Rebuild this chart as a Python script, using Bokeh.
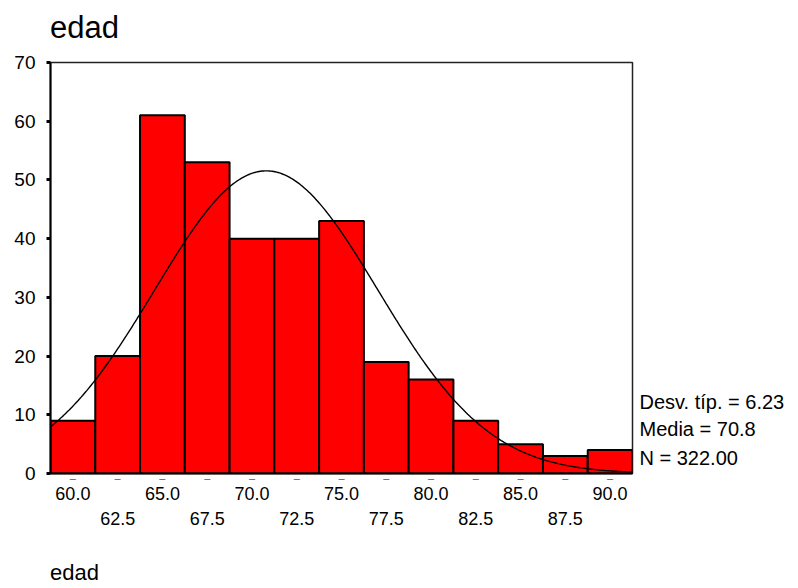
import numpy as np
from bokeh.plotting import figure
from bokeh.models import (LinearAxis, FixedTicker, Range1d,
                          NumeralTickFormatter, CustomJSTickFormatter)
from bokeh.embed import file_html
from bokeh.resources import INLINE

# ---- data ----
bin_centers = [60.0, 62.5, 65.0, 67.5, 70.0, 72.5, 75.0, 77.5, 80.0, 82.5, 85.0, 87.5, 90.0]
counts = [9, 20, 61, 53, 40, 40, 43, 19, 16, 9, 5, 3, 4]
bin_width = 2.5
ticks_row1 = [60.0, 65.0, 70.0, 75.0, 80.0, 85.0, 90.0]
ticks_row2 = [62.5, 67.5, 72.5, 77.5, 82.5, 87.5]
y_ticks = [0, 10, 20, 30, 40, 50, 60, 70]
mean = 70.8
std_dev = 6.23
n_total = 322
stats_labels = ["Desv. típ. = 6.23", "Media = 70.8", "N = 322.00"]
stats_label_y = [12.15, 7.5, 2.6]   # vertical placement of the stats text (axis units)
title_text = "edad"
x_label = "edad"

FONT = "Liberation Sans"

FRAME_W = 582  # px
x0 = bin_centers[0] - bin_width / 2
x1 = bin_centers[-1] + bin_width / 2
px_unit = FRAME_W / (x1 - x0)

p = figure(width=798, height=588, x_range=Range1d(x0, x1), y_range=Range1d(0, 70),
           output_backend="svg", toolbar_location=None, x_axis_location=None,
           min_border_left=50, min_border_right=166, min_border_top=62,
           min_border_bottom=115)
p.grid.visible = False
p.outline_line_color = "#222222"
p.outline_line_width = 1.5
p.background_fill_color = "white"
p.border_fill_color = "white"


def text_axis(ticks, formatter, size, standoff, color="black"):
    ax = LinearAxis(ticker=FixedTicker(ticks=ticks), formatter=formatter)
    ax.axis_line_color = None
    ax.major_tick_line_color = None
    ax.minor_tick_line_color = None
    ax.major_tick_out = 0
    ax.major_tick_in = 0
    ax.major_label_standoff = standoff
    ax.major_label_text_font = FONT
    ax.major_label_text_font_size = size
    ax.major_label_text_color = color
    return ax


# title drawn as a label on an axis above the frame (centred at half its width from the left)
title_ax = text_axis([x0 + 34 / px_unit],
                     CustomJSTickFormatter(args=dict(t=title_text), code="return t"),
                     "31px", 18)
p.add_layout(title_ax, "above")

# y axis
ya = p.yaxis[0]
ya.ticker = FixedTicker(ticks=y_ticks)
ya.axis_line_width = 2
ya.axis_line_color = "black"
ya.major_tick_out = 4
ya.major_tick_in = 0
ya.major_tick_line_width = 3
ya.major_tick_line_color = "black"
ya.minor_tick_line_color = None
ya.major_label_standoff = 11
ya.major_label_text_font = FONT
ya.major_label_text_font_size = "19px"
ya.major_label_text_color = "black"

# bars
lefts = [c - bin_width / 2 for c in bin_centers]
rights = [c + bin_width / 2 for c in bin_centers]
p.quad(left=lefts, right=rights, bottom=0, top=counts,
       fill_color="#FF0000", line_color="black", line_width=2)

# normal curve
xs = np.linspace(x0, x1, 400)
ys = n_total * bin_width * np.exp(-0.5 * ((xs - mean) / std_dev) ** 2) / (std_dev * np.sqrt(2 * np.pi))
p.line(xs, ys, line_color="black", line_width=1.4)

# x axes: dashes, row 1 labels, row 2 labels, caption
ax_d = text_axis(bin_centers, CustomJSTickFormatter(code="return '\u2013'"), "11px", -2,
                 color="#555555")
ax_d.axis_line_width = 2
ax_d.axis_line_color = "black"
p.add_layout(ax_d, "below")

ax1 = text_axis(ticks_row1, NumeralTickFormatter(format="0.0"), "18px", 0)
ax2 = text_axis(ticks_row2, NumeralTickFormatter(format="0.0"), "18px", 9)
p.add_layout(ax1, "below")
p.add_layout(ax2, "below")

cap_ax = text_axis([x0 + 24 / px_unit],
                   CustomJSTickFormatter(args=dict(t=x_label), code="return t"),
                   "22px", 32)
p.add_layout(cap_ax, "below")

# stats text on the right as an axis without lines
ax_r = text_axis(stats_label_y,
                 CustomJSTickFormatter(args=dict(labels=stats_labels), code="return labels[index]"),
                 "20px", 7)
p.add_layout(ax_r, "right")

open("out.html", "w").write(file_html(p, INLINE))
